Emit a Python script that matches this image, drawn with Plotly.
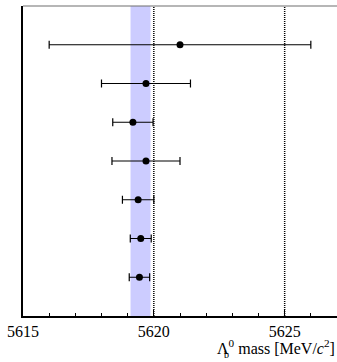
import plotly.graph_objects as go

# Data
positions = [7, 6, 5, 4, 3, 2, 1]
mass_values = [5621.0, 5619.7, 5619.2, 5619.7, 5619.4, 5619.5, 5619.45]
mass_errors = [5.0, 1.7, 0.77, 1.3, 0.6, 0.4, 0.39]
band_center = 5619.49
band_halfwidth = 0.38
ref_lines = [5620, 5625]
x_ticks = [5615, 5620, 5625]
x_range = [5615, 5627]
y_range = [0, 8]

FONT = "Liberation Serif, Times New Roman, serif"

fig = go.Figure()

fig.add_trace(go.Scatter(
    x=mass_values, y=positions, mode="markers",
    marker=dict(color="black", size=7),
    error_x=dict(type="data", array=mass_errors, color="black",
                 thickness=1.2, width=4),
    showlegend=False, cliponaxis=False,
))

shapes = [
    dict(type="rect", xref="x", yref="y",
         x0=band_center - band_halfwidth, x1=band_center + band_halfwidth,
         y0=y_range[0], y1=y_range[1],
         fillcolor="rgb(204,204,255)", line=dict(width=0), layer="below"),
]
for xv in ref_lines:
    shapes.append(dict(type="line", xref="x", yref="y", x0=xv, x1=xv,
                       y0=y_range[0], y1=y_range[1],
                       line=dict(color="black", width=1.5, dash="1px,1px"),
                       layer="below"))
# top frame line
shapes.append(dict(type="line", xref="paper", yref="paper", x0=0, x1=1,
                   y0=1, y1=1, line=dict(color="rgb(110,110,110)", width=1.2)))

fig.update_layout(
    width=337, height=362,
    margin=dict(l=23, r=0, t=6, b=46),
    paper_bgcolor="white", plot_bgcolor="white",
    shapes=shapes,
    font=dict(family=FONT, size=16, color="black"),
    xaxis=dict(
        range=x_range, tickvals=x_ticks, ticktext=[str(t) for t in x_ticks],
        ticks="inside", ticklen=6, tickwidth=1, tickcolor="black",
        minor=dict(dtick=1, ticks="inside", ticklen=3.5, tickwidth=1,
                   tickcolor="black", showgrid=False),
        showgrid=False, zeroline=False,
        showline=True, linecolor="black", linewidth=2,
        tickfont=dict(family=FONT, size=16, color="black"),
    ),
    yaxis=dict(
        range=y_range, showticklabels=False, ticks="", showgrid=False,
        zeroline=False, showline=True, linecolor="black", linewidth=2,
    ),
    annotations=[
        dict(xref="paper", yref="paper", x=1, y=0, xanchor="right",
             yanchor="top", yshift=-19, showarrow=False,
             text="Λ<sup>0</sup> mass [MeV/<i>c</i><sup>2</sup>]",
             font=dict(family=FONT, size=16, color="black")),
        dict(xref="paper", yref="paper", x=(222 - 23) / 314, y=0,
             xanchor="left", yanchor="top", yshift=-31, showarrow=False,
             text="b", font=dict(family=FONT, size=10, color="black")),
    ],
)

fig.write_html("out.html")
